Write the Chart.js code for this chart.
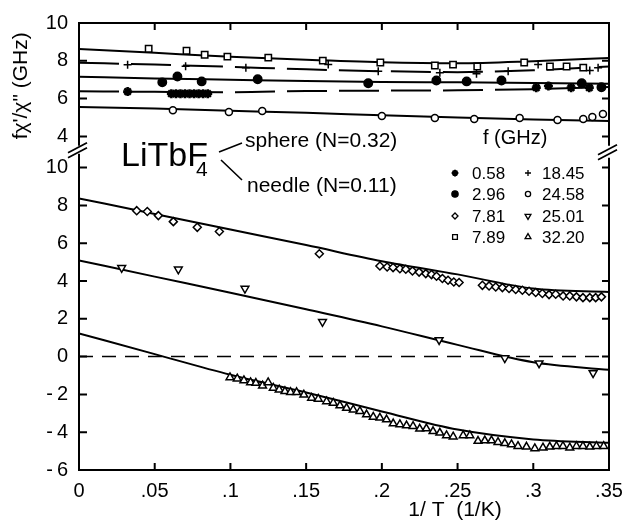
<!DOCTYPE html>
<html>
<head>
<meta charset="utf-8">
<script src="https://cdn.jsdelivr.net/npm/chart.js@4/dist/chart.umd.min.js"></script>
<style>
  html, body { margin: 0; padding: 0; background: #fff; }
  #caixa { width: 637px; height: 525px; }
</style>
</head>
<body>
<div id="caixa"><canvas id="grafico"></canvas></div>
<script>
// ticks
const xTicks = [0, 0.05, 0.1, 0.15, 0.2, 0.25, 0.3, 0.35];
const xTickLabels = ["0", ".05", ".1", ".15", ".2", ".25", ".3", ".35"];
const yTopTicks = [4, 6, 8, 10];
const yBotTicks = [-6, -4, -2, 0, 2, 4, 6, 8, 10];

// parte de cima: esfera (N=0.32)
const p058X = [0.0321, 0.061, 0.064, 0.067, 0.070, 0.073, 0.076, 0.079, 0.082, 0.085, 0.302, 0.310, 0.325, 0.337];
const p058Y = [6.37, 6.26, 6.26, 6.26, 6.26, 6.26, 6.26, 6.26, 6.26, 6.26, 6.58, 6.67, 6.58, 6.58];
const p296X = [0.055, 0.065, 0.081, 0.118, 0.191, 0.236, 0.256, 0.279, 0.332, 0.345];
const p296Y = [6.86, 7.17, 6.91, 7.02, 6.81, 6.96, 6.91, 6.96, 6.81, 6.60];
const p789X = [0.046, 0.071, 0.083, 0.098, 0.125, 0.161, 0.199, 0.235, 0.247, 0.263, 0.294, 0.311, 0.322, 0.333];
const p789Y = [8.64, 8.53, 8.32, 8.22, 8.17, 8.01, 7.91, 7.75, 7.80, 7.70, 7.91, 7.70, 7.70, 7.64];
const p1845X = [0.0321, 0.0704, 0.1102, 0.1646, 0.1976, 0.2383, 0.2625, 0.2834, 0.3032, 0.3373, 0.3428];
const p1845Y = [7.79, 7.71, 7.63, 7.80, 7.45, 7.37, 7.31, 7.45, 7.80, 7.49, 7.63];
const p2458X = [0.062, 0.099, 0.121, 0.200, 0.235, 0.261, 0.291, 0.316, 0.333, 0.339, 0.346];
const p2458Y = [5.39, 5.29, 5.34, 5.08, 4.97, 4.92, 4.97, 4.87, 4.92, 5.03, 5.18];

// parte de baixo: agulha (N=0.11)
const p781X = [0.0381, 0.0451, 0.0524, 0.0623, 0.0781, 0.0927, 0.1587,
  0.1987, 0.2035, 0.2074, 0.2119, 0.2158, 0.2202, 0.2246, 0.2290, 0.2328, 0.2361, 0.2400, 0.2437, 0.2475, 0.2510,
  0.2664, 0.2708, 0.2752, 0.2796, 0.2840, 0.2884, 0.2928, 0.2972, 0.3016, 0.3060, 0.3104, 0.3148, 0.3197, 0.3241,
  0.3285, 0.3328, 0.3373, 0.3412, 0.3450];
const p781Y = [7.72, 7.68, 7.46, 7.14, 6.84, 6.62, 5.44,
  4.79, 4.74, 4.71, 4.65, 4.62, 4.53, 4.47, 4.39, 4.34, 4.25, 4.13, 4.04, 3.95, 3.92,
  3.77, 3.74, 3.68, 3.65, 3.60, 3.55, 3.51, 3.46, 3.39, 3.34, 3.28, 3.30, 3.21, 3.21,
  3.16, 3.12, 3.12, 3.12, 3.16];
const p2501X = [0.0282, 0.0656, 0.1096, 0.1608, 0.2378, 0.2812, 0.3038, 0.3395];
const p2501Y = [4.70, 4.62, 3.60, 1.84, 0.88, -0.08, -0.35, -0.87];
const p3220X = [0.0997, 0.1045, 0.1089, 0.1133, 0.1168, 0.1212, 0.1249, 0.1283, 0.1322, 0.1360, 0.1397, 0.1437,
  0.1485, 0.1536, 0.1580, 0.1635, 0.1679, 0.1723, 0.1767, 0.1811, 0.1855, 0.1899, 0.1943, 0.1987, 0.2031,
  0.2075, 0.2119, 0.2163, 0.2206, 0.2250, 0.2294, 0.2338, 0.2383, 0.2427, 0.2471, 0.2537, 0.2581, 0.2635,
  0.2680, 0.2724, 0.2767, 0.2812, 0.2856, 0.2899, 0.2955, 0.3010, 0.3064, 0.3109, 0.3153, 0.3196, 0.3241,
  0.3285, 0.3328, 0.3373, 0.3417, 0.3465];
const p3220Y = [-1.10, -1.17, -1.26, -1.37, -1.40, -1.54, -1.37, -1.66, -1.75, -1.84, -1.88, -1.89,
  -2.02, -2.19, -2.24, -2.37, -2.45, -2.59, -2.72, -2.81, -2.89, -3.07, -3.19, -3.24, -3.33,
  -3.54, -3.59, -3.65, -3.68, -3.82, -3.81, -3.95, -4.03, -4.17, -4.24, -4.17, -4.17, -4.47,
  -4.44, -4.44, -4.53, -4.59, -4.65, -4.74, -4.77, -4.86, -4.82, -4.77, -4.74, -4.74, -4.82,
  -4.74, -4.74, -4.77, -4.74, -4.74];

// curvas ajustadas
const fitX = [0, 0.05, 0.1, 0.15, 0.2, 0.25, 0.3, 0.35];
const fit789 = [8.62, 8.42, 8.22, 8.05, 7.92, 7.87, 7.98, 8.15];
const fit1845 = [7.90, 7.80, 7.68, 7.55, 7.45, 7.40, 7.50, 7.70];
const fit296 = [7.15, 7.07, 7.00, 6.93, 6.88, 6.86, 6.83, 6.78];
const fit058 = [6.39, 6.36, 6.34, 6.40, 6.42, 6.44, 6.50, 6.62];
const fit2458 = [5.55, 5.47, 5.36, 5.25, 5.12, 5.00, 4.90, 4.82];
const fit781 = [8.37, 7.55, 6.72, 5.90, 5.05, 4.35, 3.60, 3.42];
const fit2501 = [5.09, 4.23, 3.38, 2.50, 1.60, 0.62, -0.30, -0.70];
const fit3220 = [1.23, 0.13, -0.96, -1.90, -2.90, -3.86, -4.38, -4.56];
const zeroX = [0, 0.35];
const zeroY = [0, 0];

const legendLabels = [["0.58", "18.45"], ["2.96", "24.58"], ["7.81", "25.01"], ["7.89", "32.20"]];

const fonte = "'Liberation Sans', Arial, sans-serif";

function pontos(xs, ys) {
  return xs.map((x, i) => ({ x: x, y: ys[i] }));
}

function marcadores(label, xs, ys, eixo, estilo) {
  return {
    label: label,
    data: pontos(xs, ys),
    yAxisID: eixo,
    showLine: false,
    pointStyle: estilo.style,
    pointRadius: estilo.r,
    pointRotation: estilo.rot || 0,
    pointBackgroundColor: estilo.fill,
    pointBorderColor: "#000",
    pointBorderWidth: estilo.bw || 1.5,
    order: 1
  };
}

function curva(ys, eixo, dash) {
  return {
    label: "fit",
    data: pontos(fitX, ys),
    yAxisID: eixo,
    showLine: true,
    borderColor: "#000",
    borderWidth: 2,
    borderDash: dash || [],
    pointRadius: 0,
    cubicInterpolationMode: "monotone",
    order: 2
  };
}

const estilos = {
  "0.58": { style: "star", r: 4.5, fill: "#000", bw: 2.6 },
  "2.96": { style: "circle", r: 4.2, fill: "#000" },
  "7.81": { style: "rectRot", r: 4, fill: "#fff" },
  "7.89": { style: "rect", r: 4.5, fill: "#fff" },
  "18.45": { style: "cross", r: 4, fill: "#000" },
  "24.58": { style: "circle", r: 3.5, fill: "#fff" },
  "25.01": { style: "triangle", r: 4.5, fill: "#fff", rot: 180 },
  "32.20": { style: "triangle", r: 4.5, fill: "#fff" }
};

const datasets = [
  marcadores("0.58", p058X, p058Y, "yTop", estilos["0.58"]),
  marcadores("2.96", p296X, p296Y, "yTop", estilos["2.96"]),
  marcadores("7.89", p789X, p789Y, "yTop", estilos["7.89"]),
  marcadores("18.45", p1845X, p1845Y, "yTop", estilos["18.45"]),
  marcadores("24.58", p2458X, p2458Y, "yTop", estilos["24.58"]),
  marcadores("7.81", p781X, p781Y, "yBot", estilos["7.81"]),
  marcadores("25.01", p2501X, p2501Y, "yBot", estilos["25.01"]),
  marcadores("32.20", p3220X, p3220Y, "yBot", estilos["32.20"]),
  curva(fit789, "yTop"),
  curva(fit1845, "yTop", [40, 12]),
  curva(fit296, "yTop"),
  curva(fit058, "yTop", [40, 12]),
  curva(fit2458, "yTop"),
  curva(fit781, "yBot"),
  curva(fit2501, "yBot"),
  curva(fit3220, "yBot"),
  {
    label: "zero",
    data: pontos(zeroX, zeroY),
    yAxisID: "yBot",
    showLine: true,
    borderColor: "#000",
    borderWidth: 1.5,
    borderDash: [14, 9],
    pointRadius: 0,
    order: 3
  }
];

function rotuloY(v) {
  return v < 0 ? "-\u2009" + Math.abs(v) : String(v);
}

function texto(ctx, s, x, y, tam, align) {
  ctx.font = tam + "px " + fonte;
  ctx.textAlign = align || "left";
  ctx.textBaseline = "alphabetic";
  ctx.fillText(s, x, y);
}

const molduraPlugin = {
  id: "moldura",
  beforeDraw(chart) {
    const ctx = chart.ctx;
    ctx.save();
    ctx.fillStyle = "#fff";
    ctx.fillRect(0, 0, chart.width, chart.height);
    ctx.restore();
  },
  afterDraw(chart) {
    const ctx = chart.ctx;
    const a = chart.chartArea;
    const sx = chart.scales.x, yt = chart.scales.yTop, yb = chart.scales.yBot;
    const q = yt.bottom;
    ctx.save();
    ctx.strokeStyle = "#000";
    ctx.fillStyle = "#000";
    ctx.lineWidth = 2;
    ctx.lineCap = "butt";

    // moldura com quebra
    ctx.beginPath();
    ctx.moveTo(a.left, q - 3); ctx.lineTo(a.left, a.top);
    ctx.lineTo(a.right, a.top); ctx.lineTo(a.right, q - 3);
    ctx.moveTo(a.left, q + 5); ctx.lineTo(a.left, a.bottom);
    ctx.lineTo(a.right, a.bottom); ctx.lineTo(a.right, q + 9);
    ctx.stroke();

    // marcas de quebra
    ctx.lineWidth = 1.8;
    ctx.beginPath();
    [[a.left, 0], [a.right, 2]].forEach(function (p) {
      const x0 = p[0], d = p[1];
      ctx.moveTo(x0 - 11, q + 4 + d); ctx.lineTo(x0 + 8, q - 6 + d);
      ctx.moveTo(x0 - 11, q + 9 + d); ctx.lineTo(x0 + 8, q - 1 + d);
    });
    ctx.stroke();

    // ticks para dentro
    ctx.lineWidth = 2;
    ctx.beginPath();
    yTopTicks.forEach(function (v) {
      const y = yt.getPixelForValue(v);
      ctx.moveTo(a.left, y); ctx.lineTo(a.left + 8, y);
      ctx.moveTo(a.right, y); ctx.lineTo(a.right - 7, y);
    });
    yBotTicks.forEach(function (v) {
      const y = yb.getPixelForValue(v);
      ctx.moveTo(a.left, y); ctx.lineTo(a.left + 8, y);
      ctx.moveTo(a.right, y); ctx.lineTo(a.right - 7, y);
    });
    xTicks.slice(1, -1).forEach(function (v) {
      const x = sx.getPixelForValue(v);
      ctx.moveTo(x, a.bottom); ctx.lineTo(x, a.bottom - 7);
      ctx.moveTo(x, a.top); ctx.lineTo(x, a.top + 7);
    });
    ctx.stroke();

    // textos
    texto(ctx, "LiTbF", 121, 166, 34);
    texto(ctx, "4", 196, 176, 21);
    ctx.lineWidth = 1.6;
    ctx.beginPath();
    ctx.moveTo(219, 152); ctx.lineTo(242, 143);
    ctx.moveTo(221, 160); ctx.lineTo(242, 180);
    ctx.stroke();
    texto(ctx, "sphere (N=0.32)", 245, 147, 21);
    texto(ctx, "needle (N=0.11)", 247, 192, 21);
    texto(ctx, "f (GHz)", 483, 144, 20);
    texto(ctx, "1/ T  (1/K)", 455, 516, 21, "center");

    // legenda
    const linhas = [173, 194, 216, 237];
    const colSimb = [455, 528];
    const colTxt = [472, 542];
    const desenha = Chart.helpers && Chart.helpers.drawPoint;
    legendLabels.forEach(function (par, i) {
      par.forEach(function (lab, j) {
        const e = estilos[lab];
        ctx.fillStyle = e.fill;
        ctx.strokeStyle = "#000";
        ctx.lineWidth = e.bw ? 2 : 1.3;
        if (desenha) {
          desenha(ctx, { pointStyle: e.style, radius: e.r * 0.75, rotation: e.rot || 0, borderWidth: ctx.lineWidth }, colSimb[j], linhas[i]);
        }
        ctx.fillStyle = "#000";
        ctx.font = "17px " + fonte;
        ctx.textAlign = "left";
        ctx.textBaseline = "middle";
        ctx.fillText(lab, colTxt[j], linhas[i] + 1);
      });
    });
    ctx.restore();
  }
};

const fonteTick = { family: fonte, size: 20 };
const semGrade = { display: false, drawTicks: false, tickLength: 0 };

new Chart(document.getElementById("grafico"), {
  type: "scatter",
  data: { datasets: datasets },
  plugins: [molduraPlugin],
  options: {
    responsive: true,
    maintainAspectRatio: false,
    animation: false,
    devicePixelRatio: 1,
    layout: { padding: { left: 0, top: 18, right: 28, bottom: 0 } },
    plugins: { legend: { display: false }, tooltip: { enabled: false } },
    scales: {
      x: {
        type: "linear",
        min: 0,
        max: 0.35,
        afterBuildTicks: function (s) { s.ticks = xTicks.map(v => ({ value: v })); },
        afterFit: function (s) { s.height = 55; },
        ticks: {
          callback: function (v, i) { return xTickLabels[i]; },
          font: fonteTick, color: "#000", padding: 9, autoSkip: false, maxRotation: 0
        },
        grid: semGrade,
        border: { display: false }
      },
      yBot: {
        type: "linear",
        position: "left",
        stack: "quebra",
        stackWeight: 17,
        min: -6,
        max: 11,
        afterBuildTicks: function (s) { s.ticks = yBotTicks.map(v => ({ value: v })); },
        afterFit: function (s) { s.width = 79; },
        ticks: { callback: rotuloY, font: fonteTick, color: "#000", padding: 11, autoSkip: false },
        grid: semGrade,
        border: { display: false }
      },
      yTop: {
        type: "linear",
        position: "left",
        stack: "quebra",
        stackWeight: 6.65,
        min: 3.35,
        max: 10,
        afterBuildTicks: function (s) { s.ticks = yTopTicks.map(v => ({ value: v })); },
        afterFit: function (s) { s.width = 79; },
        ticks: { callback: rotuloY, font: fonteTick, color: "#000", padding: 11, autoSkip: false },
        title: {
          display: true,
          text: "fχ'/χ\" (GHz)",
          font: { family: fonte, size: 21 },
          color: "#000",
          padding: { top: 9, bottom: 0 }
        },
        grid: semGrade,
        border: { display: false }
      }
    }
  }
});
</script>
</body>
</html>
